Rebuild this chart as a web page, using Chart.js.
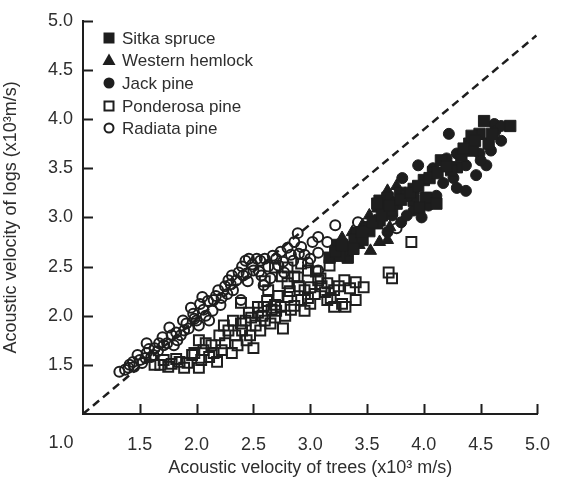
<!DOCTYPE html>
<html>
<head>
<meta charset="utf-8">
<script src="https://cdn.jsdelivr.net/npm/chart.js@4"></script>
<style>
  html, body { margin: 0; padding: 0; background: #fff; }
  #wrap { width: 570px; height: 485px; }
</style>
</head>
<body>
<div id="wrap"><canvas id="chart" width="570" height="485"></canvas></div>
<script>
// Acoustic velocity: [tree, log] pairs in x10^3 m/s
const sitkaSpruce = [
  [4.76,3.93],[4.49,3.85],[4.57,3.75],[4.40,3.75],[4.43,3.68],[4.29,3.51],[4.08,3.46],
  [4.00,3.38],[3.91,3.29],[3.79,3.25],[3.68,3.20],[3.61,3.17],[3.76,3.14],[3.91,3.17],
  [4.02,3.20],[4.11,3.14],[3.96,3.10],[3.61,2.97],[3.50,2.90],[3.41,2.84],[3.35,2.70],
  [3.33,2.59],[3.17,2.59],[3.30,2.66],[3.39,2.77],[3.52,2.86],[3.59,2.94],[3.65,3.07],
  [3.59,3.14],[3.24,2.72],[4.15,3.58],[4.24,3.48],[4.33,3.63],[4.53,3.98],[4.42,3.83],
  [3.85,3.22],[3.72,3.07],[3.46,2.77],[3.26,2.61],[3.45,2.85],[3.55,2.95],[3.63,3.02],
  [3.70,3.12],[3.80,3.18],[3.88,3.25],[3.95,3.32],[4.05,3.40],[4.12,3.45],[4.20,3.52],
  [4.35,3.70],[4.45,3.78],[4.60,3.85],[3.38,2.68],[3.22,2.65],[3.28,2.72]
];
const westernHemlock = [
  [3.68,3.27],[3.53,2.66],[3.68,2.77],[3.70,2.90],[3.37,2.85],[3.61,2.75],[3.63,3.14],
  [3.28,2.79],[3.46,2.92],[3.52,3.02],[3.59,3.09],[3.72,3.17],[3.43,2.72],[3.76,3.32]
];
const jackPine = [
  [4.22,3.85],[4.29,3.65],[3.95,3.53],[4.20,3.60],[4.62,3.95],[4.63,3.88],[4.49,3.65],
  [4.26,3.40],[4.29,3.30],[4.17,3.35],[3.98,3.00],[3.91,3.07],[3.80,2.95],[3.68,2.85],
  [4.37,3.27],[4.46,3.43],[4.55,3.53],[4.59,3.68],[4.11,3.22],[4.04,3.12],[3.85,3.02],
  [3.72,3.02],[3.81,3.40],[4.08,3.50],[4.37,3.53],[4.50,3.58],[4.68,3.93],[4.68,3.78]
];
const ponderosaPine = [
  [1.63,1.50],[1.78,1.51],[1.89,1.47],[2.02,1.47],[1.96,1.60],[2.06,1.65],[2.18,1.53],
  [2.31,1.62],[2.25,1.72],[2.34,1.80],[2.39,1.92],[2.47,1.80],[2.50,1.67],[2.43,1.95],
  [2.54,2.03],[2.60,1.95],[2.69,1.98],[2.69,2.11],[2.59,2.09],[2.76,1.87],[2.83,2.06],
  [2.98,2.18],[2.95,2.26],[3.15,2.33],[3.21,2.26],[3.30,2.36],[3.40,2.34],[3.47,2.29],
  [3.40,2.16],[3.31,2.09],[3.21,2.09],[3.15,2.16],[3.13,2.24],[3.07,2.36],[3.00,2.29],
  [2.92,2.16],[2.80,2.19],[2.74,2.09],[2.66,2.06],[2.80,2.33],[2.89,2.39],[2.98,2.46],
  [3.09,2.38],[3.17,2.51],[3.69,2.44],[3.72,2.38],[3.89,2.75],[2.69,2.49],[2.80,2.49],
  [2.92,2.53],[2.63,2.26],[2.46,2.03],[2.54,2.09],[2.39,2.13],[2.24,1.90],[2.32,1.95],
  [2.13,1.70],[2.02,1.75],[2.11,1.58],[1.85,1.53],[1.71,1.55],[1.68,1.50],[1.75,1.48],
  [1.82,1.56],[1.92,1.52],[1.98,1.62],[2.04,1.55],[2.08,1.72],[2.15,1.62],[2.20,1.80],
  [2.22,1.65],[2.28,1.85],[2.36,1.70],[2.40,1.85],[2.44,1.75],[2.48,1.98],[2.52,1.90],
  [2.56,1.85],[2.58,2.00],[2.62,2.15],[2.65,1.92],[2.70,2.05],[2.72,2.20],[2.78,2.00],
  [2.82,2.25],[2.86,2.10],[2.90,2.30],[2.95,2.05],[3.00,2.12],[3.04,2.22],[3.10,2.30],
  [3.18,2.18],[3.25,2.30],[3.28,2.12],[3.35,2.28],[2.86,2.40],[3.05,2.45],[2.75,2.40],
  [2.60,2.35]
];
const radiataPine = [
  [1.32,1.43],[1.37,1.45],[1.41,1.50],[1.44,1.53],[1.50,1.55],[1.48,1.60],[1.56,1.62],
  [1.60,1.58],[1.56,1.72],[1.63,1.67],[1.67,1.72],[1.71,1.70],[1.76,1.88],[1.78,1.80],
  [1.83,1.75],[1.91,1.92],[1.95,2.08],[1.98,1.97],[2.05,2.19],[2.06,2.06],[2.11,1.95],
  [2.19,2.26],[2.21,2.11],[2.28,2.36],[2.31,2.41],[2.32,2.26],[2.37,2.44],[2.43,2.56],
  [2.46,2.58],[2.41,2.41],[2.56,2.56],[2.50,2.46],[2.57,2.41],[2.67,2.61],[2.72,2.51],
  [2.80,2.69],[2.89,2.84],[2.90,2.63],[2.98,2.54],[3.07,2.80],[3.15,2.75],[3.07,2.64],
  [3.07,2.46],[3.22,2.92],[3.42,2.95],[3.76,2.89],[2.39,2.16],[2.44,2.43],[2.77,2.44],
  [2.85,2.56],[2.59,2.31],[2.15,2.16],[1.89,1.85],[2.02,1.90],[1.40,1.47],[1.45,1.48],
  [1.52,1.52],[1.55,1.57],[1.58,1.66],[1.62,1.60],[1.66,1.64],[1.70,1.78],[1.74,1.72],
  [1.80,1.70],[1.82,1.83],[1.86,1.80],[1.88,1.95],[1.93,1.87],[1.97,2.02],[2.00,1.95],
  [2.03,2.12],[2.08,2.00],[2.10,2.15],[2.14,2.05],[2.17,2.20],[2.22,2.18],[2.25,2.30],
  [2.27,2.22],[2.30,2.32],[2.35,2.36],[2.40,2.50],[2.45,2.35],[2.49,2.52],[2.53,2.58],
  [2.55,2.45],[2.60,2.58],[2.63,2.50],[2.65,2.38],[2.70,2.58],[2.74,2.65],[2.76,2.55],
  [2.83,2.62],[2.86,2.75],[2.92,2.70],[2.95,2.62],[3.00,2.58],[3.02,2.75]
];
const oneToOne = [[1.0,1.0],[4.99,4.85]];
const tickValues = [1.0,1.5,2.0,2.5,3.0,3.5,4.0,4.5,5.0];

const ink = '#1e1e1e';
const textColor = '#2e2e2e';
const fontFamily = '"Liberation Sans", Arial, sans-serif';

const toPoints = arr => arr.map(p => ({x: p[0], y: p[1]}));

const series = [
  {label: 'Sitka spruce', data: sitkaSpruce, style: 'rect', radius: 8, filled: true},
  {label: 'Western hemlock', data: westernHemlock, style: 'triangle', radius: 7, filled: true},
  {label: 'Jack pine', data: jackPine, style: 'circle', radius: 5.5, filled: true},
  {label: 'Ponderosa pine', data: ponderosaPine, style: 'rect', radius: 7, filled: false},
  {label: 'Radiata pine', data: radiataPine, style: 'circle', radius: 5, filled: false}
];

const datasets = series.map(s => ({
  type: 'scatter',
  label: s.label,
  data: toPoints(s.data),
  pointStyle: s.style,
  pointRadius: s.radius,
  pointHoverRadius: s.radius,
  pointBorderWidth: s.filled ? 1 : 2,
  pointBorderColor: ink,
  pointBackgroundColor: s.filled ? ink : 'rgba(0,0,0,0)'
}));

datasets.push({
  type: 'line',
  label: '1:1',
  data: toPoints(oneToOne),
  borderColor: ink,
  borderWidth: 2.5,
  borderDash: [8, 5],
  pointRadius: 0,
  fill: false
});

// inward ticks, the offset "1.0" label and the legend
const decorations = {
  id: 'decorations',
  afterDraw(chart) {
    const {ctx, chartArea, scales: {x, y}} = chart;
    ctx.save();
    ctx.strokeStyle = ink;
    ctx.lineWidth = 2;
    ctx.beginPath();
    tickValues.forEach(v => {
      if (v === 1.0) return;
      const px = Math.round(x.getPixelForValue(v)) + 0.5;
      ctx.moveTo(px, chartArea.bottom);
      ctx.lineTo(px, chartArea.bottom - 10);
      const py = Math.round(y.getPixelForValue(v)) + 0.5;
      ctx.moveTo(chartArea.left, py);
      ctx.lineTo(chartArea.left + 10, py);
    });
    ctx.stroke();

    ctx.fillStyle = textColor;
    ctx.font = '18px ' + fontFamily;
    ctx.textAlign = 'center';
    ctx.textBaseline = 'middle';
    ctx.fillText('1.0', x.getPixelForValue(1.0) - 22, 443);

    // legend
    const lx = 109, rows = [38, 60, 83, 106, 128];
    ctx.font = '17px ' + fontFamily;
    ctx.textAlign = 'left';
    series.forEach((s, i) => {
      const cy = rows[i];
      ctx.beginPath();
      if (s.style === 'rect') {
        const h = s.filled ? 5.5 : 4.5;
        ctx.rect(lx - h, cy - h, 2 * h, 2 * h);
      } else if (s.style === 'triangle') {
        ctx.moveTo(lx, cy - 6.5);
        ctx.lineTo(lx + 6.5, cy + 5);
        ctx.lineTo(lx - 6.5, cy + 5);
        ctx.closePath();
      } else {
        ctx.arc(lx, cy, s.filled ? 5.5 : 4.5, 0, Math.PI * 2);
      }
      if (s.filled) {
        ctx.fillStyle = ink;
        ctx.fill();
      } else {
        ctx.lineWidth = 2;
        ctx.strokeStyle = ink;
        ctx.stroke();
      }
      ctx.fillStyle = textColor;
      ctx.fillText(s.label, 122, cy + 1);
    });
    ctx.restore();
  }
};

const axisTitle = text => ({
  display: true,
  text: text,
  color: textColor,
  font: {family: fontFamily, size: 18}
});

new Chart(document.getElementById('chart'), {
  data: {datasets: datasets},
  options: {
    responsive: false,
    animation: false,
    layout: {padding: {left: 0, right: 28, top: 20, bottom: 0}},
    plugins: {
      legend: {display: false},
      tooltip: {enabled: false}
    },
    scales: {
      x: {
        type: 'linear',
        min: 1,
        max: 5,
        afterFit: scale => { scale.height = 71; },
        border: {display: true, color: ink, width: 2},
        grid: {display: false, drawTicks: false},
        ticks: {
          stepSize: 0.5,
          padding: 20,
          color: textColor,
          font: {family: fontFamily, size: 18},
          callback: v => v === 1 ? '' : v.toFixed(1)
        },
        title: {...axisTitle('Acoustic velocity of trees (x10\u00B3 m/s)'), padding: {top: 0, bottom: 6}}
      },
      y: {
        type: 'linear',
        min: 1,
        max: 5,
        afterFit: scale => { scale.width = 83; },
        border: {display: true, color: ink, width: 2},
        grid: {display: false, drawTicks: false},
        ticks: {
          stepSize: 0.5,
          padding: 10,
          color: textColor,
          font: {family: fontFamily, size: 18},
          callback: v => v === 1 ? '' : v.toFixed(1)
        },
        title: {...axisTitle('Acoustic velocity of logs (x10\u00B3m/s)'), padding: {top: 0, bottom: 0}}
      }
    }
  },
  plugins: [decorations]
});
</script>
</body>
</html>
